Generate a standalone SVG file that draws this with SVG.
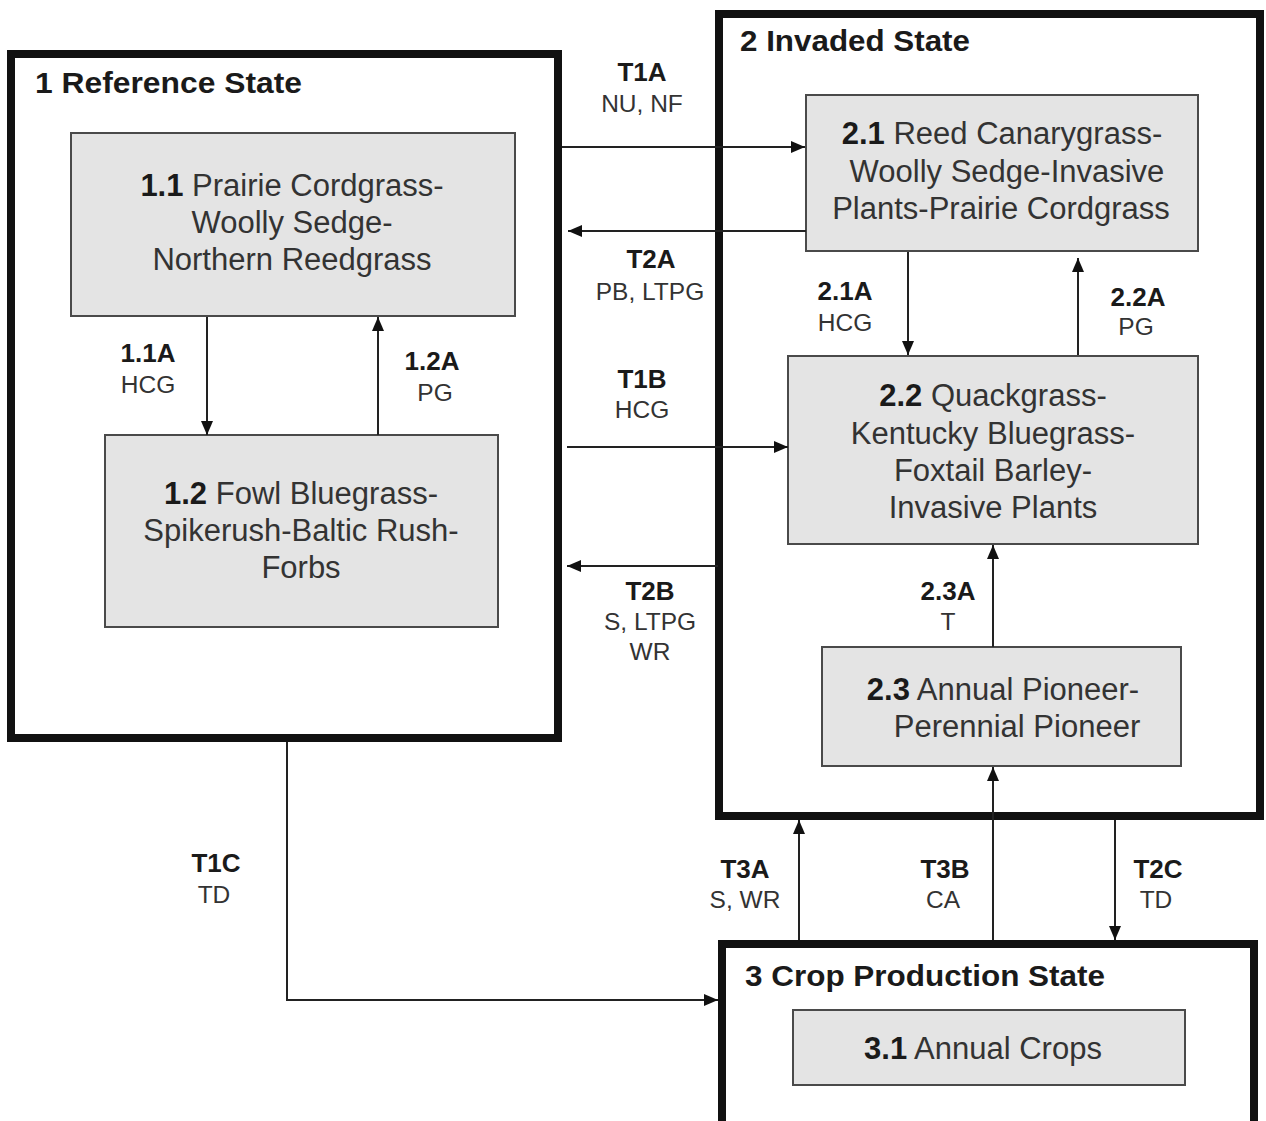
<svg xmlns="http://www.w3.org/2000/svg" width="1266" height="1121" viewBox="0 0 1266 1121">
<style>
.state{fill:none;stroke:#111;stroke-width:8}
.box{fill:#e4e4e4;stroke:#4a4a4a;stroke-width:2}
.title{font-family:"Liberation Sans",Arial,sans-serif;font-weight:bold;font-size:29px;fill:#1a1a1a}
.bt{font-family:"Liberation Sans",Arial,sans-serif;font-size:31px;fill:#333;text-anchor:middle}
.bt .b{font-weight:bold;fill:#1a1a1a}
.lb{font-family:"Liberation Sans",Arial,sans-serif;font-weight:bold;font-size:26px;fill:#1a1a1a;text-anchor:middle}
.lr{font-family:"Liberation Sans",Arial,sans-serif;font-size:24.5px;fill:#333;text-anchor:middle}
.c{fill:none;stroke:#222;stroke-width:2}
</style>
<defs>
<marker id="ah" viewBox="0 0 14 12" refX="14" refY="6" markerWidth="14" markerHeight="12" markerUnits="userSpaceOnUse" orient="auto">
<path d="M0 0L14 6L0 12z" fill="#111"/>
</marker>
</defs>
<rect width="1266" height="1121" fill="#fff"/>

<g id="state1">
<rect class="state" x="11" y="54" width="547" height="684"/>
<text class="title" x="35" y="93" textLength="267" lengthAdjust="spacingAndGlyphs">1 Reference State</text>
</g>
<g id="state2">
<rect class="state" x="719" y="14" width="541" height="802"/>
<text class="title" x="740" y="51" textLength="230" lengthAdjust="spacingAndGlyphs">2 Invaded State</text>
</g>
<g id="state3">
<rect class="state" x="722" y="944" width="532" height="190"/>
<text class="title" x="745" y="986" textLength="360" lengthAdjust="spacingAndGlyphs">3 Crop Production State</text>
</g>

<g id="n1-1">
<rect class="box" x="71" y="133" width="444" height="183"/>
<text class="bt"><tspan x="292" y="196"><tspan class="b">1.1</tspan> Prairie Cordgrass-</tspan><tspan x="292" y="233">Woolly Sedge-</tspan><tspan x="292" y="270">Northern Reedgrass</tspan></text>
</g>
<g id="n1-2">
<rect class="box" x="105" y="435" width="393" height="192"/>
<text class="bt"><tspan x="301" y="504"><tspan class="b">1.2</tspan> Fowl Bluegrass-</tspan><tspan x="301" y="541">Spikerush-Baltic Rush-</tspan><tspan x="301" y="578">Forbs</tspan></text>
</g>
<g id="n2-1">
<rect class="box" x="806" y="95" width="392" height="156"/>
<text class="bt"><tspan x="1002" y="144"><tspan class="b">2.1</tspan> Reed Canarygrass-</tspan><tspan x="1007" y="182">Woolly Sedge-Invasive</tspan><tspan x="1001" y="219">Plants-Prairie Cordgrass</tspan></text>
</g>
<g id="n2-2">
<rect class="box" x="788" y="356" width="410" height="188"/>
<text class="bt"><tspan x="993" y="406"><tspan class="b">2.2</tspan> Quackgrass-</tspan><tspan x="993" y="444">Kentucky Bluegrass-</tspan><tspan x="993" y="481">Foxtail Barley-</tspan><tspan x="993" y="518">Invasive Plants</tspan></text>
</g>
<g id="n2-3">
<rect class="box" x="822" y="647" width="359" height="119"/>
<text class="bt"><tspan x="1003" y="700"><tspan class="b">2.3</tspan> Annual Pioneer-</tspan><tspan x="1017" y="737">Perennial Pioneer</tspan></text>
</g>
<g id="n3-1">
<rect class="box" x="793" y="1010" width="392" height="75"/>
<text class="bt"><tspan x="983" y="1059"><tspan class="b">3.1</tspan> Annual Crops</tspan></text>
</g>

<g id="connectors">
<line class="c" x1="207" y1="317" x2="207" y2="435" marker-end="url(#ah)"/>
<line class="c" x1="378" y1="435" x2="378" y2="317" marker-end="url(#ah)"/>
<line class="c" x1="908" y1="252" x2="908" y2="355" marker-end="url(#ah)"/>
<line class="c" x1="1078" y1="355" x2="1078" y2="258" marker-end="url(#ah)"/>
<line class="c" x1="993" y1="647" x2="993" y2="545" marker-end="url(#ah)"/>
<line class="c" x1="562" y1="147" x2="805" y2="147" marker-end="url(#ah)"/>
<line class="c" x1="806" y1="231" x2="568" y2="231" marker-end="url(#ah)"/>
<line class="c" x1="567" y1="447" x2="788" y2="447" marker-end="url(#ah)"/>
<line class="c" x1="718" y1="566" x2="567" y2="566" marker-end="url(#ah)"/>
<path class="c" d="M287 742V1000H718" marker-end="url(#ah)"/>
<line class="c" x1="799" y1="940" x2="799" y2="820" marker-end="url(#ah)"/>
<line class="c" x1="993" y1="940" x2="993" y2="767" marker-end="url(#ah)"/>
<line class="c" x1="1115" y1="820" x2="1115" y2="940" marker-end="url(#ah)"/>

<text class="lb" x="642" y="81">T1A</text><text class="lr" x="642" y="112">NU, NF</text>
<text class="lb" x="651" y="268">T2A</text><text class="lr" x="650" y="300">PB, LTPG</text>
<text class="lb" x="148" y="362">1.1A</text><text class="lr" x="148" y="393">HCG</text>
<text class="lb" x="432" y="370">1.2A</text><text class="lr" x="435" y="401">PG</text>
<text class="lb" x="642" y="388">T1B</text><text class="lr" x="642" y="418">HCG</text>
<text class="lb" x="650" y="600">T2B</text><text class="lr" x="650" y="630">S, LTPG</text><text class="lr" x="650" y="660">WR</text>
<text class="lb" x="845" y="300">2.1A</text><text class="lr" x="845" y="331">HCG</text>
<text class="lb" x="1138" y="306">2.2A</text><text class="lr" x="1136" y="335">PG</text>
<text class="lb" x="948" y="600">2.3A</text><text class="lr" x="948" y="630">T</text>
<text class="lb" x="216" y="872">T1C</text><text class="lr" x="214" y="903">TD</text>
<text class="lb" x="745" y="878">T3A</text><text class="lr" x="745" y="908">S, WR</text>
<text class="lb" x="945" y="878">T3B</text><text class="lr" x="943" y="908">CA</text>
<text class="lb" x="1158" y="878">T2C</text><text class="lr" x="1156" y="908">TD</text>
</g>
</svg>
